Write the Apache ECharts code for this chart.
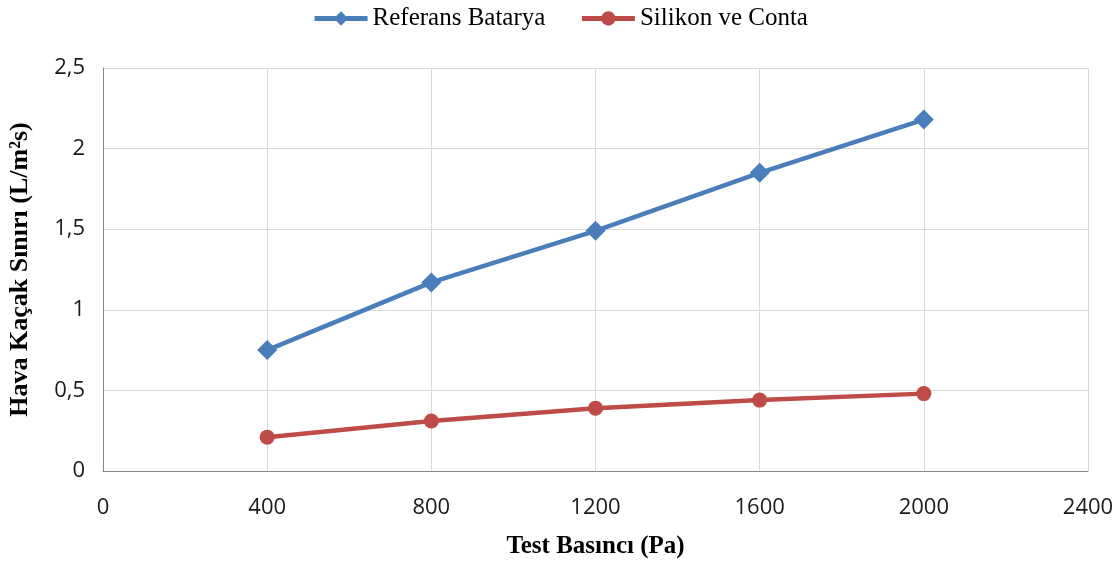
<!DOCTYPE html>
<html><head><meta charset="utf-8">
<script src="https://cdn.jsdelivr.net/npm/echarts@6/dist/echarts.min.js"></script>
<style>html,body{margin:0;padding:0;background:#fff}#c{width:1120px;height:565px}</style>
</head><body><div id="c"></div>
<script>
var pressures = [400, 800, 1200, 1600, 2000];
var referans = [0.75, 1.17, 1.49, 1.85, 2.18];
var silikon = [0.21, 0.31, 0.39, 0.44, 0.48];
var seriesNames = ['Referans Batarya', 'Silikon ve Conta'];

function pairs(xs, ys){ return xs.map(function(x,i){ return [x, ys[i]]; }); }

var chart = echarts.init(document.getElementById('c'));
chart.setOption({
  animation: false,
  legend: {
    top: 1, left: 'center', itemWidth: 53, itemHeight: 18, itemGap: 34,
    lineStyle: {width: 5},
    textStyle: {fontFamily: 'Liberation Serif', fontSize: 25, color: '#000'},
    data: seriesNames
  },
  grid: {left: 103, right: 32, top: 68, bottom: 94, containLabel: false, outerBoundsMode: 'none'},
  xAxis: {
    type: 'value', min: 0, max: 2400, interval: 400,
    name: 'Test Basıncı (Pa)', nameLocation: 'middle', nameGap: 63,
    nameTextStyle: {fontFamily: 'Liberation Serif', fontWeight: 'bold', fontSize: 25, color: '#000'},
    axisLine: {show: true, lineStyle: {color: '#868686', width: 1}},
    axisTick: {show: false},
    axisLabel: {fontFamily: 'Open Sans', fontSize: 22, color: '#1a1a1a', margin: 26,
      formatter: function(v){ return String(v); }},
    splitLine: {show: true, lineStyle: {color: '#d9d9d9', width: 1}}
  },
  yAxis: {
    type: 'value', min: 0, max: 2.5, interval: 0.5,
    name: 'Hava Kaçak Sınırı (L/m²s)', nameLocation: 'middle', nameGap: 70,
    nameTextStyle: {fontFamily: 'Liberation Serif', fontWeight: 'bold', fontSize: 26, color: '#000'},
    axisLine: {show: true, lineStyle: {color: '#868686', width: 1}},
    axisTick: {show: false},
    axisLabel: {fontFamily: 'Open Sans', fontSize: 22, color: '#1a1a1a', margin: 18,
      formatter: function(v){ return String(v).replace('.', ','); }},
    splitLine: {show: true, lineStyle: {color: '#d9d9d9', width: 1}}
  },
  series: [
    {name: seriesNames[0], type: 'line', data: pairs(pressures, referans),
     symbol: 'diamond', symbolSize: 20,
     lineStyle: {color: '#4a7ebb', width: 4.5}, itemStyle: {color: '#4a7ebb'}},
    {name: seriesNames[1], type: 'line', data: pairs(pressures, silikon),
     symbol: 'circle', symbolSize: 15,
     lineStyle: {color: '#be4b48', width: 4.5}, itemStyle: {color: '#be4b48'}}
  ]
});
</script></body></html>
